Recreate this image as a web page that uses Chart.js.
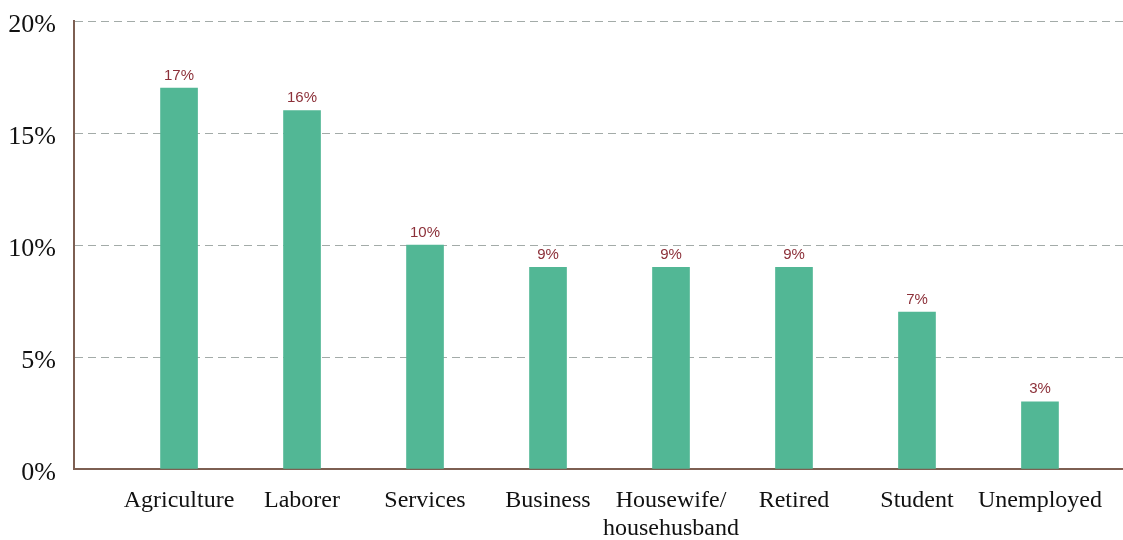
<!DOCTYPE html>
<html>
<head>
<meta charset="utf-8">
<script src="https://cdn.jsdelivr.net/npm/chart.js@4/dist/chart.umd.min.js"></script>
<style>
  body { margin: 0; background: #fff; }
  #wrap { width: 1123px; height: 540px; }
</style>
</head>
<body>
<div id="wrap"><canvas id="myChart"></canvas></div>
<script>
var categories = ['Agriculture', 'Laborer', 'Services', 'Business', ['Housewife/', 'househusband'], 'Retired', 'Student', 'Unemployed'];
var shares = [17, 16, 10, 9, 9, 9, 7, 3];
var yTicks = [0, 5, 10, 15, 20];

var points = shares.map(function (v, i) { return { x: i, y: v }; });

// draws the "17%" style labels on top of each bar
var topLabels = {
  id: 'topLabels',
  afterDatasetsDraw: function (chart) {
    var ctx = chart.ctx;
    var meta = chart.getDatasetMeta(0);
    ctx.save();
    ctx.font = '15px "Liberation Sans", Arial, sans-serif';
    ctx.fillStyle = '#8c3039';
    ctx.textAlign = 'center';
    ctx.textBaseline = 'bottom';
    meta.data.forEach(function (bar, i) {
      ctx.fillText(shares[i] + '%', bar.x, bar.y - 5);
    });
    ctx.restore();
  }
};

var ctx = document.getElementById('myChart').getContext('2d');
var chart = new Chart(ctx, {
  type: 'bar',
  data: {
    datasets: [{
      data: points,
      backgroundColor: '#52b795',
      barThickness: 37
    }]
  },
  options: {
    responsive: true,
    maintainAspectRatio: false,
    animation: false,
    layout: { padding: { top: 21, left: 0, right: 0, bottom: 0 } },
    plugins: {
      legend: { display: false },
      tooltip: { enabled: false }
    },
    scales: {
      x: {
        type: 'linear',
        offset: false,
        min: -0.854,
        max: 7.675,
        afterBuildTicks: function (s) {
          s.ticks = categories.map(function (c, i) { return { value: i }; });
        },
        afterFit: function (s) { s.height = 71; s.paddingLeft = 0; s.paddingRight = 0; },
        ticks: {
          autoSkip: false,
          maxRotation: 0,
          padding: 17,
          color: '#111',
          font: { family: '"Liberation Serif", "Times New Roman", serif', size: 24 },
          callback: function (v) { return categories[v]; }
        },
        grid: { display: false, drawTicks: false, offset: false },
        border: { display: true, color: '#7d5f52', width: 2 }
      },
      y: {
        min: 0,
        max: 20,
        afterBuildTicks: function (s) {
          s.ticks = yTicks.map(function (v) { return { value: v }; });
        },
        afterFit: function (s) { s.width = 74; s.paddingTop = 0; s.paddingBottom = 0; },
        ticks: {
          padding: 18,
          labelOffset: 4,
          color: '#111',
          font: { family: '"Liberation Serif", "Times New Roman", serif', size: 26 },
          callback: function (v) { return v + '%'; }
        },
        grid: {
          color: '#a3aba8',
          lineWidth: 1,
          drawTicks: false
        },
        border: { display: true, color: '#7d5f52', width: 2, dash: [8, 5] }
      }
    }
  },
  plugins: [topLabels]
});
</script>
</body>
</html>
